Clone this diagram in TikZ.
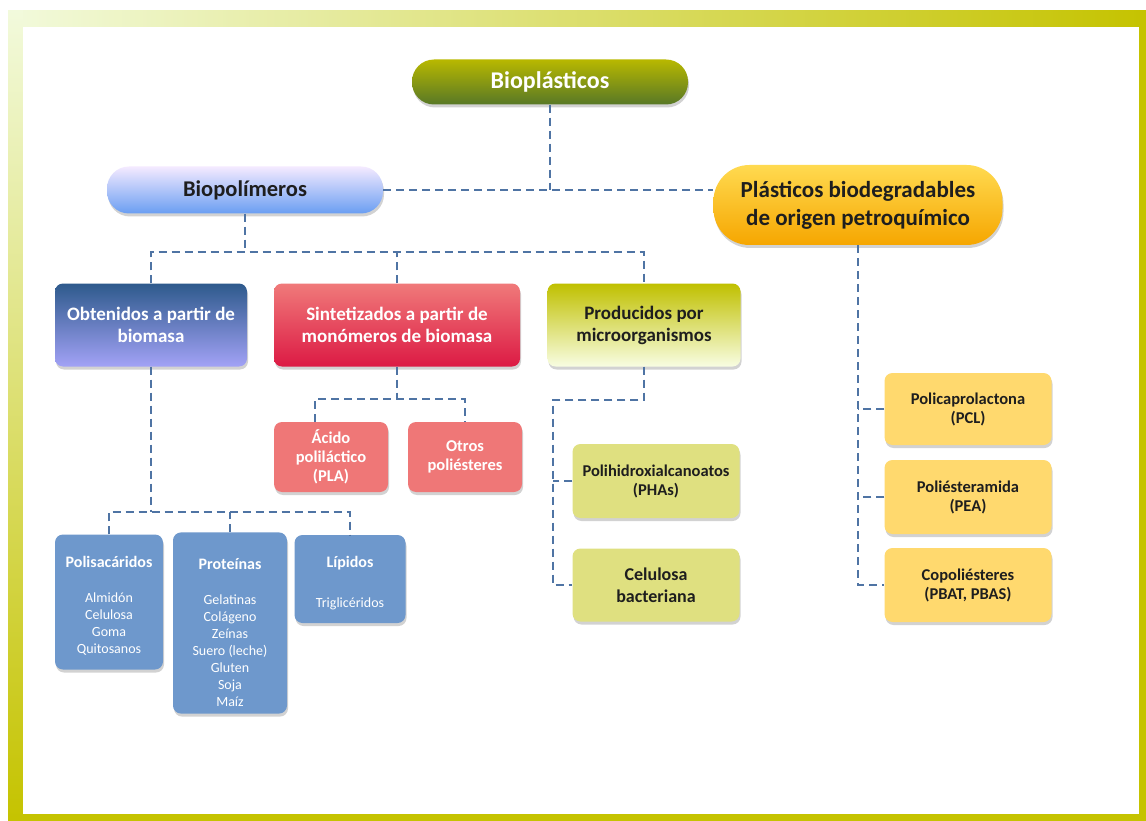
\documentclass[tikz,border=0pt]{standalone}
\usepackage{fontspec}
\setmainfont{Carlito}
\usetikzlibrary{shadows}

\definecolor{linkblue}{HTML}{4F74A4}
\definecolor{frameolive}{HTML}{C5C300}
\definecolor{framelight}{HTML}{F2FADC}
\definecolor{inkdark}{HTML}{1E1E1E}
\definecolor{famblue}{HTML}{6E98CC}

\newcommand{\famitems}[1]{{\mdseries\fontsize{14}{17}\selectfont
  \begin{tabular}{@{}c@{}}#1\end{tabular}}}

\begin{document}
\begin{tikzpicture}[x=1pt, y=-1pt,
    box/.style={rounded corners=8pt, align=center, inner sep=2pt,
      drop shadow={shadow xshift=1pt, shadow yshift=-3pt, opacity=.35}},
    pill/.style={box, rounded corners=22pt},
    hdB/.style={font=\bfseries\fontsize{19}{22}\selectfont},
    hdC/.style={font=\bfseries\fontsize{16.5}{19}\selectfont},
    itembox/.style={box, fill=famblue, text=white,
      font=\bfseries\fontsize{16}{18}\selectfont},
    link/.style={draw=linkblue, line width=2pt, dash pattern=on 8pt off 5pt}]
  % frame
  \fill[frameolive] (8,11) rectangle (1146,821);
  \shade[left color=framelight, right color=frameolive] (8,11) rectangle (1146,27);
  \shade[top color=framelight, bottom color=frameolive] (8,11) rectangle (23,821);
  \fill[white] (23,27) rectangle (1139,814);
  \useasboundingbox (0,0) rectangle (1146,821);
  % level 0 and 1
  \node[pill, font=\bfseries\fontsize{24}{28}\selectfont, text=white, top color={rgb,255:red,184;green,184;blue,0}, bottom color={rgb,255:red,88;green,120;blue,38},
    minimum width=276pt, minimum height=45pt] (bioplast) at (550,82) {Bioplásticos};
  \node[pill, font=\bfseries\fontsize{22.5}{26}\selectfont, text=inkdark, top color={rgb,255:red,244;green,234;blue,255}, bottom color={rgb,255:red,106;green,158;blue,242},
    minimum width=276pt, minimum height=47pt] (biopol) at (245,190) {Biopolímeros};
  \node[box, rounded corners=36pt, font=\bfseries\fontsize{23}{28}\selectfont, text=inkdark, top color={rgb,255:red,255;green,218;blue,80}, bottom color={rgb,255:red,246;green,166;blue,0},
    minimum width=289pt, minimum height=80pt] (petro) at (858,205) {Plásticos biodegradables\\de origen petroquímico};
  % level 2
  \node[box, hdB, text=white, top color={rgb,255:red,46;green,90;blue,140}, bottom color={rgb,255:red,162;green,162;blue,246},
    minimum width=192pt, minimum height=83pt] (obt) at (151,325) {Obtenidos a partir de\\biomasa};
  \node[box, hdB, text=white, top color={rgb,255:red,240;green,122;blue,122}, bottom color={rgb,255:red,220;green,26;blue,68},
    minimum width=246pt, minimum height=83pt] (sint) at (397,325) {Sintetizados a partir de\\monómeros de biomasa};
  \node[box, hdB, text=inkdark, top color={rgb,255:red,192;green,192;blue,0}, bottom color={rgb,255:red,248;green,253;blue,226},
    minimum width=193pt, minimum height=83pt] (prod) at (644,325) {Producidos por\\microorganismos};
  % synthesised
  \node[box, hdC, text=white, fill={rgb,255:red,239;green,119;blue,119},
    minimum width=114pt, minimum height=70pt] (pla) at (331,457) {Ácido\\poliláctico\\(PLA)};
  \node[box, hdC, text=white, fill={rgb,255:red,239;green,119;blue,119},
    minimum width=114pt, minimum height=70pt] (otros) at (465,457) {Otros\\poliésteres};
  % biomass families (strut on the heading keeps it near the top)
  \node[itembox, minimum width=108pt, minimum height=135pt] (polis) at (109,602)
    {\rule{0pt}{22pt}Polisacáridos\\[22pt]\famitems{Almidón\\Celulosa\\Goma\\Quitosanos}};
  \node[itembox, minimum width=114pt, minimum height=177pt] (prot) at (230,623)
    {\rule{0pt}{35pt}Proteínas\\[22pt]\famitems{Gelatinas\\Colágeno\\Zeínas\\Suero (leche)\\Gluten\\Soja\\Maíz}};
  \node[itembox, minimum width=111pt, minimum height=88pt] (lip) at (350,579)
    {\rule{0pt}{22pt}Lípidos\\[22pt]\famitems{Triglicéridos}};
  % microorganisms
  \node[box, hdC, text=inkdark, fill={rgb,255:red,223;green,224;blue,128},
    minimum width=167pt, minimum height=74pt] (pha) at (656,481) {Polihidroxialcanoatos\\(PHAs)};
  \node[box, font=\bfseries\fontsize{18}{22}\selectfont, text=inkdark, fill={rgb,255:red,223;green,224;blue,128},
    minimum width=167pt, minimum height=73pt] (celu) at (656,585) {Celulosa\\bacteriana};
  % petrochemical
  \node[box, hdC, text=inkdark, fill={rgb,255:red,255;green,217;blue,110},
    minimum width=167pt, minimum height=72pt] (pcl) at (968,409) {Policaprolactona\\(PCL)};
  \node[box, hdC, text=inkdark, fill={rgb,255:red,255;green,217;blue,110},
    minimum width=167pt, minimum height=74pt] (pea) at (968,497) {Poliésteramida\\(PEA)};
  \node[box, hdC, text=inkdark, fill={rgb,255:red,255;green,217;blue,110},
    minimum width=167pt, minimum height=74pt] (copo) at (968,585) {Copoliésteres\\(PBAT, PBAS)};
  % connectors
  \coordinate (busA) at (0,252);
  \coordinate (busB) at (0,512);
  \coordinate (busC) at (0,399);
  \coordinate (prodbend) at (553,400);
  \draw[link] (bioplast.south) -- (bioplast.south |- biopol.east);
  \draw[link] (biopol.east) -- (biopol.east -| petro.west);
  \draw[link] (biopol.south) -- (biopol.south |- busA);
  \draw[link] (obt.north) |- (busA -| prod.north) -- (prod.north);
  \draw[link] (sint.north) -- (sint.north |- busA);
  \draw[link] (obt.south) -- (obt.south |- busB);
  \draw[link] (polis.north) |- (busB -| lip.north) -- (lip.north);
  \draw[link] (prot.north) -- (prot.north |- busB);
  \draw[link] (sint.south) -- (sint.south |- busC);
  \draw[link] ([xshift=-16pt]pla.north) |- (busC -| otros.north) -- (otros.north);
  \draw[link] (prod.south) |- (prodbend) |- (celu.west);
  \draw[link] (pha.west) -- (pha.west -| prodbend);
  \draw[link] (petro.south) |- (copo.west);
  \draw[link] (pcl.west) -- (pcl.west -| petro.south);
  \draw[link] (pea.west) -- (pea.west -| petro.south);
\end{tikzpicture}
\end{document}
